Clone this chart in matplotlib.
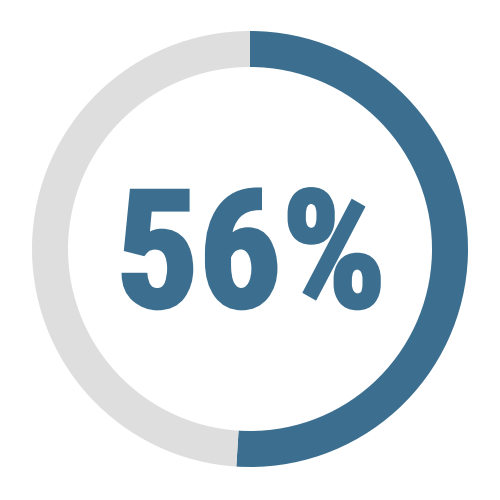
import matplotlib
matplotlib.use("Agg")
import matplotlib.pyplot as plt
import matplotlib.patheffects as pe

labels = ["Filled", "Remaining"]
arc_values = [51, 49]
colors = ["#3b6e8f", "#dedede"]
center_label = "56%"

fig = plt.figure(figsize=(5, 5), dpi=100)
ax = fig.add_axes([0, 0, 1, 1])
ax.pie(arc_values, colors=colors, radius=218, startangle=90, counterclock=False,
       center=(0, 1), wedgeprops=dict(width=36, edgecolor="none"))
ax.set_xlim(-250, 250)
ax.set_ylim(-250, 250)
ax.set_aspect("equal")
ax.axis("off")
ax.text(1, -12, center_label, ha="center", va="center", fontsize=118,
        fontweight="bold", color=colors[0], family=["Roboto Condensed", "DejaVu Sans"],
        path_effects=[pe.withStroke(linewidth=2.5, foreground=colors[0], joinstyle="miter")])
fig.savefig("out.png", dpi=100)
